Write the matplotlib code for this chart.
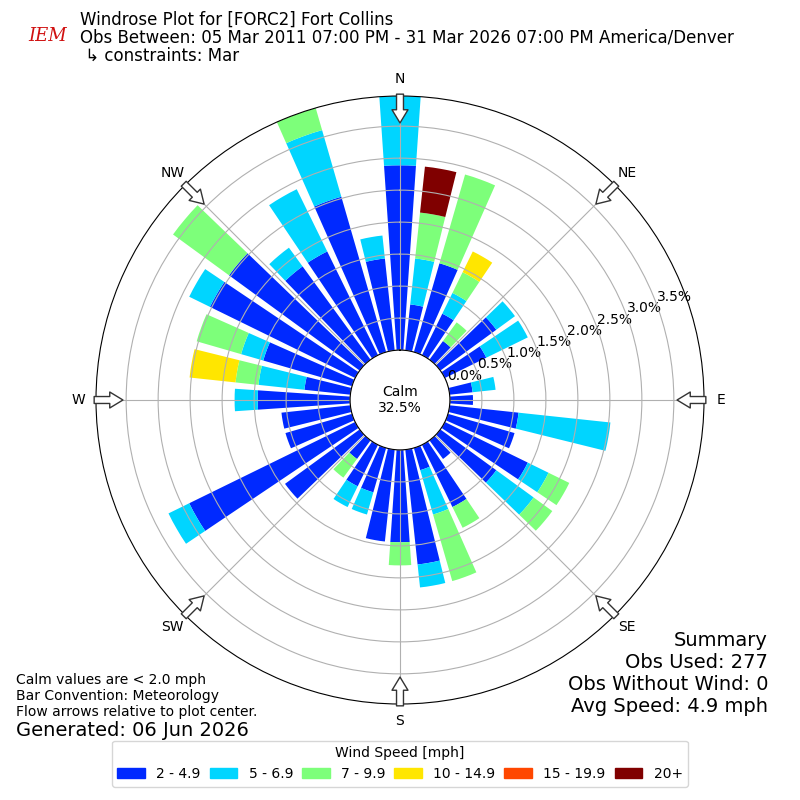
import numpy as np
import matplotlib
matplotlib.use("Agg")
import matplotlib.pyplot as plt
from matplotlib.patches import Patch

# Data: observation counts per 10 degree direction bin (0 = N, clockwise)
directions = np.arange(0, 360, 10)
speed_labels = ["2 - 4.9", "5 - 6.9", "7 - 9.9", "10 - 14.9", "15 - 19.9", "20+"]
cnt_2_5 = [8, 2, 4, 2, 1, 3, 2, 0, 1, 1, 3, 3, 4, 3, 1, 3, 1, 5,
           4, 4, 2, 2, 1, 4, 8, 3, 3, 4, 2, 4, 7, 7, 5, 5, 7, 4]
cnt_5_7 = [3, 2, 0, 1, 0, 1, 2, 0, 1, 0, 4, 0, 1, 2, 0, 0, 2, 1,
           0, 0, 1, 1, 0, 0, 1, 0, 0, 1, 2, 1, 1, 0, 1, 3, 3, 1]
cnt_7_10 = [0, 2, 4, 1, 1, 0, 0, 0, 0, 0, 0, 0, 1, 1, 0, 1, 3, 0,
            1, 0, 0, 0, 1, 0, 0, 0, 0, 0, 1, 2, 0, 3, 0, 0, 1, 0]
cnt_10_15 = [0, 0, 0, 1, 0, 0, 0, 0, 0, 0, 0, 0, 0, 0, 0, 0, 0, 0,
             0, 0, 0, 0, 0, 0, 0, 0, 0, 0, 2, 0, 0, 0, 0, 0, 0, 0]
cnt_15_20 = [0] * 36
cnt_20p = [0, 2, 0, 0, 0, 0, 0, 0, 0, 0, 0, 0, 0, 0, 0, 0, 0, 0,
           0, 0, 0, 0, 0, 0, 0, 0, 0, 0, 0, 0, 0, 0, 0, 0, 0, 0]
obs_used = 277
avg_speed = 4.9
compass = ["N", "NE", "E", "SE", "S", "SW", "W", "NW"]

series = [cnt_2_5, cnt_5_7, cnt_7_10, cnt_10_15, cnt_15_20, cnt_20p]
colors = plt.cm.jet(np.linspace(1 / 6, 1, 6))

fig = plt.figure(figsize=(8, 8), dpi=100)
ax = fig.add_axes([0.12, 0.12, 0.76, 0.76], projection="polar")
ax.set_theta_zero_location("N")
ax.set_theta_direction(-1)

theta = np.deg2rad(directions)
base = np.zeros(len(directions))
for vals, color in zip(series, colors):
    pct = np.array(vals) / obs_used * 100.0
    ax.bar(theta, pct, width=np.deg2rad(7.8), bottom=base, color=color,
           linewidth=0, zorder=1)
    base += pct

calm_pct = (obs_used - base.sum() * obs_used / 100.0) / obs_used * 100.0
rmax = base.max()
ax.set_ylim(0, rmax)
ax.set_rorigin(-0.78)

rticks = np.arange(0, 3.6, 0.5)
ax.set_yticks(rticks)
ax.set_yticklabels(["%.1f%%" % t for t in rticks], fontsize=10)
ax.set_rlabel_position(69.5)
ax.set_thetagrids(np.arange(0, 360, 45), compass, fontsize=10)
ax.tick_params(axis="x", pad=2)
ax.grid(True, color="#b0b0b0", linewidth=0.8)

ax.text(0.5, 0.5, "Calm\n%.1f%%" % calm_pct, transform=ax.transAxes,
        ha="center", va="center", fontsize=10)

# flow arrows on the outer ring pointing to the center
for ang in np.arange(0, 360, 45):
    ax.annotate("", xy=(np.deg2rad(ang), 3.55), xytext=(np.deg2rad(ang), 4.0),
                arrowprops=dict(arrowstyle="simple,head_length=0.95,head_width=1.15,tail_width=0.5",
                                fc="white", ec="#333333", lw=1, shrinkA=0, shrinkB=0),
                annotation_clip=False)

# header
fig.text(0.035, 0.955, "IEM", color="#d01010", fontsize=13, family="serif",
         style="italic", ha="left", va="center")
fig.text(0.1, 1 - 20 / 800, "Windrose Plot for [FORC2] Fort Collins", fontsize=12, va="center")
fig.text(0.1, 1 - 38 / 800,
         "Obs Between: 05 Mar 2011 07:00 PM - 31 Mar 2026 07:00 PM America/Denver",
         fontsize=12, va="center")
fig.text(0.1, 1 - 56 / 800, " \u21b3 constraints: Mar", fontsize=12, va="center")

# notes
fig.text(0.02, 1 - 680 / 800, "Calm values are < 2.0 mph", fontsize=10, va="center")
fig.text(0.02, 1 - 696 / 800, "Bar Convention: Meteorology", fontsize=10, va="center")
fig.text(0.02, 1 - 712 / 800, "Flow arrows relative to plot center.", fontsize=10, va="center")
fig.text(0.02, 1 - 730 / 800, "Generated: 06 Jun 2026", fontsize=14, va="center")

summary = ["Summary", "Obs Used: %d" % obs_used, "Obs Without Wind: 0",
           "Avg Speed: %.1f mph" % avg_speed]
for i, line in enumerate(summary):
    fig.text(0.96, 1 - (640 + 22 * i) / 800, line, fontsize=14, ha="right", va="center")

handles = [Patch(color=c) for c in colors]
fig.legend(handles, speed_labels, loc="lower center", bbox_to_anchor=(0.5, 0.008),
           ncol=6, title="Wind Speed [mph]", fontsize=10, title_fontsize=10,
           columnspacing=0.65)

fig.savefig("out.png", dpi=100)
